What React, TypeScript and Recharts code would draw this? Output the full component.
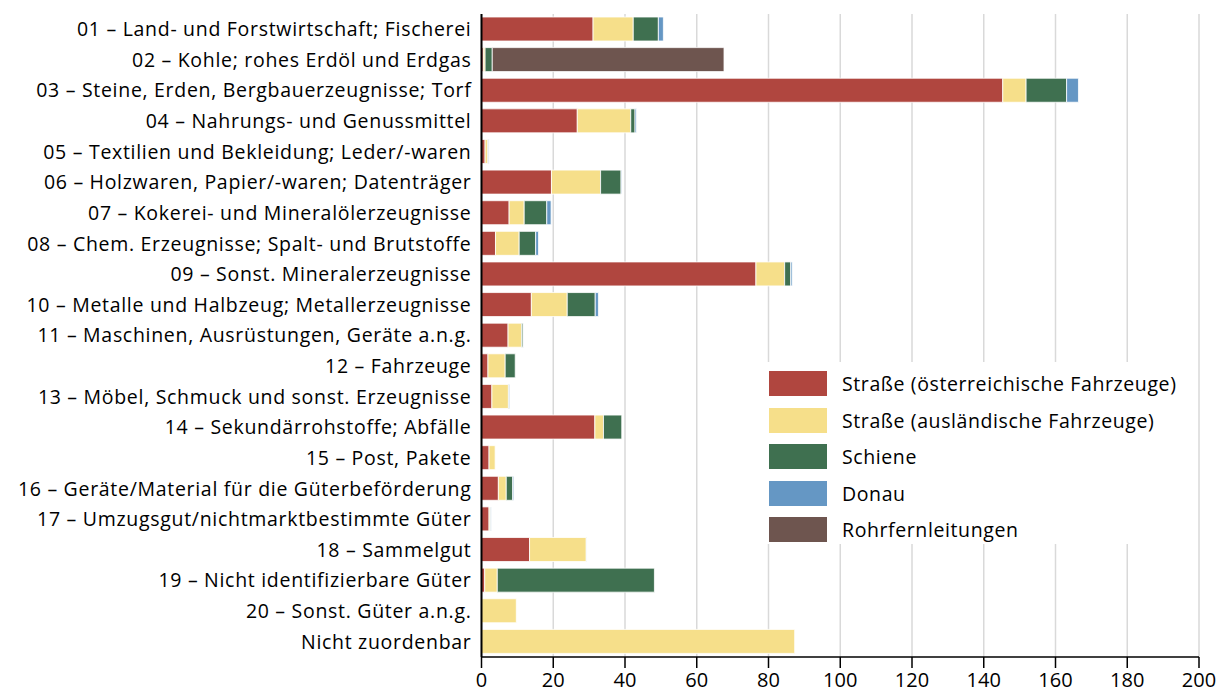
import { BarChart, Bar, XAxis, YAxis, CartesianGrid } from 'recharts'

const categories = [
  '01 – Land- und Forstwirtschaft; Fischerei',
  '02 – Kohle; rohes Erdöl und Erdgas',
  '03 – Steine, Erden, Bergbauerzeugnisse; Torf',
  '04 – Nahrungs- und Genussmittel',
  '05 – Textilien und Bekleidung; Leder/-waren',
  '06 – Holzwaren, Papier/-waren; Datenträger',
  '07 – Kokerei- und Mineralölerzeugnisse',
  '08 – Chem. Erzeugnisse; Spalt- und Brutstoffe',
  '09 – Sonst. Mineralerzeugnisse',
  '10 – Metalle und Halbzeug; Metallerzeugnisse',
  '11 – Maschinen, Ausrüstungen, Geräte a.n.g.',
  '12 – Fahrzeuge',
  '13 – Möbel, Schmuck und sonst. Erzeugnisse',
  '14 – Sekundärrohstoffe; Abfälle',
  '15 – Post, Pakete',
  '16 – Geräte/Material für die Güterbeförderung',
  '17 – Umzugsgut/nichtmarktbestimmte Güter',
  '18 – Sammelgut',
  '19 – Nicht identifizierbare Güter',
  '20 – Sonst. Güter a.n.g.',
  'Nicht zuordenbar',
]

const strasseAT = [31.1, 0.5, 145.3, 26.7, 1.0, 19.5, 7.7, 3.9, 76.5, 13.9, 7.4, 1.8, 2.9, 31.6, 2.1, 4.7, 2.1, 13.4, 0.9, 0, 0]
const strasseAusl = [11.2, 0.5, 6.5, 14.9, 0.8, 13.7, 4.2, 6.6, 8.0, 10.0, 3.8, 4.8, 4.6, 2.4, 1.7, 2.2, 0.3, 15.8, 3.5, 9.7, 87.3]
const schiene = [7.0, 2.0, 11.3, 1.2, 0.1, 5.7, 6.3, 4.6, 1.7, 7.8, 0.4, 2.8, 0.2, 5.1, 0, 1.8, 0.2, 0, 43.8, 0, 0]
const donau = [1.4, 0, 3.3, 0.4, 0.2, 0.2, 1.2, 0.8, 0.4, 0.9, 0.1, 0, 0.2, 0, 0, 0.3, 0.1, 0.1, 0, 0, 0]
const rohr = [0, 64.6, 0, 0, 0, 0, 0, 0, 0, 0, 0, 0, 0, 0, 0, 0, 0, 0, 0, 0, 0]

const xTicks = [0, 20, 40, 60, 80, 100, 120, 140, 160, 180, 200]

const series = [
  { key: 'strasseAT', name: 'Straße (österreichische Fahrzeuge)', color: '#B0463F' },
  { key: 'strasseAusl', name: 'Straße (ausländische Fahrzeuge)', color: '#F6DF8A' },
  { key: 'schiene', name: 'Schiene', color: '#3F7050' },
  { key: 'donau', name: 'Donau', color: '#6597C4' },
  { key: 'rohr', name: 'Rohrfernleitungen', color: '#6E554F' },
]

const data = categories.map((name, i) => ({
  name,
  strasseAT: strasseAT[i],
  strasseAusl: strasseAusl[i],
  schiene: schiene[i],
  donau: donau[i],
  rohr: rohr[i],
}))

const font = '"Open Sans", "Noto Sans", sans-serif'

export default function App() {
  return (
    <div style={{ position: 'absolute', left: 0, top: 0, width: 1218, height: 695, background: '#fff', fontFamily: font }}>
      <BarChart
        width={1218}
        height={695}
        data={data}
        layout="vertical"
        barSize={24}
        margin={{ top: 14, right: 19, bottom: 0, left: 0 }}
      >
        <CartesianGrid horizontal={false} stroke="#d9d9d9" strokeWidth={1.5} />
        <XAxis
          type="number"
          domain={[0, 200]}
          ticks={xTicks}
          interval={0}
          height={38}
          tickSize={11}
          tickMargin={5}
          axisLine={{ stroke: '#000', strokeWidth: 1.5 }}
          tickLine={{ stroke: '#000', strokeWidth: 1.5 }}
          tick={{ fill: '#000', fontSize: 20, fontFamily: font }}
        />
        <YAxis
          type="category"
          dataKey="name"
          width={481.5}
          interval={0}
          tickSize={0}
          tickMargin={10}
          tickLine={false}
          axisLine={{ stroke: '#000', strokeWidth: 2 }}
          tick={{ fill: '#000', fontSize: 19.5, fontFamily: font, letterSpacing: 0.7 }}
        />
        {series.map(s => (
          <Bar key={s.key} dataKey={s.key} name={s.name} stackId="a" fill={s.color} stroke="#fff" strokeWidth={0.8} isAnimationActive={false} />
        ))}
      </BarChart>
      <div style={{ position: 'absolute', left: 762, top: 362, width: 430, height: 182, background: '#fff' }}>
        {series.map((s, i) => (
          <div key={s.key} style={{ position: 'absolute', left: 7, top: 8 + i * 36.6, display: 'flex', alignItems: 'center' }}>
            <div style={{ width: 58, height: 25, background: s.color }} />
            <span style={{ marginLeft: 15, fontSize: 19.5, letterSpacing: 0.6, color: '#000', whiteSpace: 'nowrap' }}>{s.name}</span>
          </div>
        ))}
      </div>
    </div>
  )
}
